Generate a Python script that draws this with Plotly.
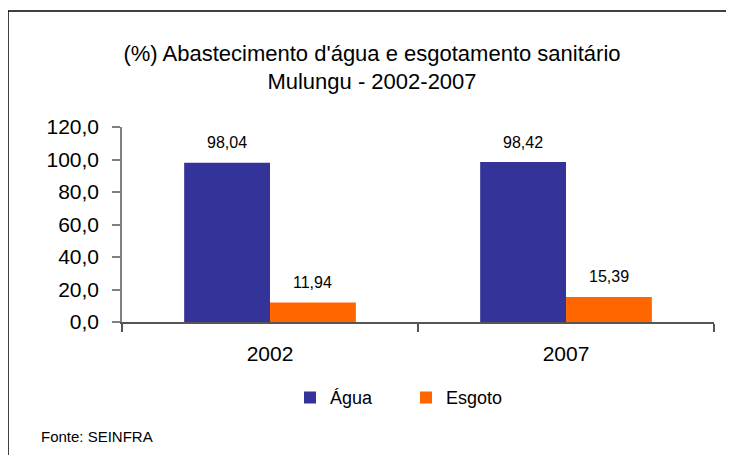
import plotly.graph_objects as go

# ---- data ----
categories = ["2002", "2007"]
agua = [98.04, 98.42]
esgoto = [11.94, 15.39]
series_names = ["Água", "Esgoto"]
series_colors = ["#333399", "#FF6600"]
title_lines = ["(%) Abastecimento d'água e esgotamento sanitário", "Mulungu - 2002-2007"]
source_text = "Fonte: SEINFRA"

FONT = "Arial, 'Liberation Sans', sans-serif"
OFF = 8                      # page body margin of the browser
W, H = 734 - OFF, 455 - OFF  # figure size inside the page
# plot area in page pixels
PX0, PX1, PY0, PY1 = 122, 714, 127, 322
ML, MR, MT, MB = PX0 - OFF, W - (PX1 - OFF), PY0 - OFF, H - (PY1 - OFF)
BARGAP = 0.42
plot_w = PX1 - PX0
plot_h = PY1 - PY0

def px_x(px):
    return (px - PX0) / plot_w

def px_y(py):
    return (PY1 - py) / plot_h

fig = go.Figure()
for name, vals, col in zip(series_names, [agua, esgoto], series_colors):
    fig.add_trace(go.Bar(x=categories, y=vals, name=name, marker_color=col,
                         marker_line_width=0))

bar_w = plot_w / len(categories) * (1 - BARGAP) / 2
for i, vals in enumerate([agua, esgoto]):
    for j, v in enumerate(vals):
        fig.add_annotation(x=j, y=v, text=f"{v:.2f}".replace(".", ","),
                           showarrow=False, xshift=(i - 0.5) * bar_w, yshift=20,
                           font=dict(family=FONT, size=16, color="black"))

fig.add_annotation(xref="paper", yref="paper", x=px_x(39), y=px_y(436),
                   xanchor="left", yanchor="middle", text=source_text, showarrow=False,
                   font=dict(family=FONT, size=15, color="black"))

# frame lines (top and left)
fig.add_shape(type="line", xref="paper", yref="paper", x0=px_x(8), x1=px_x(760),
              y0=px_y(11), y1=px_y(11), line=dict(color="black", width=1.5))
fig.add_shape(type="line", xref="paper", yref="paper", x0=px_x(8), x1=px_x(8),
              y0=px_y(11), y1=px_y(480), line=dict(color="black", width=1.5))

fig.update_layout(
    width=W, height=H,
    margin=dict(l=ML, r=MR, t=MT, b=MB, autoexpand=False),
    paper_bgcolor="white", plot_bgcolor="white",
    barmode="group", bargap=BARGAP, bargroupgap=0,
    separators=", ",
    title=dict(text="<br>".join(title_lines), x=(372 - OFF) / W, xanchor="center",
               y=1 - (60.7 - OFF) / H, yanchor="middle",
               font=dict(family=FONT, size=22, color="black")),
    font=dict(family=FONT, color="black"),
    legend=dict(orientation="h", x=px_x(290), xanchor="left", y=px_y(397.7),
                yanchor="middle", entrywidth=71, entrywidthmode="pixels",
                font=dict(family=FONT, size=18, color="black"),
                bgcolor="rgba(0,0,0,0)"),
    xaxis=dict(type="category", range=[-0.5, len(categories) - 0.5], showline=True,
               linecolor="#555555", linewidth=1.5,
               ticks="outside", tickson="boundaries", ticklen=8, tickcolor="#555555",
               tickwidth=1.5, showgrid=False, automargin=False,
               tickfont=dict(family=FONT, size=21, color="black"),
               ticklabelstandoff=12),
    yaxis=dict(range=[0, 120], dtick=20, tickformat=".1f", showline=True,
               linecolor="#808080", linewidth=1.5, ticks="outside", ticklen=8,
               tickcolor="#808080", tickwidth=1.5, showgrid=False, zeroline=False,
               automargin=False,
               tickfont=dict(family=FONT, size=21, color="black"),
               ticklabelstandoff=9),
)

fig.write_html("out.html")
